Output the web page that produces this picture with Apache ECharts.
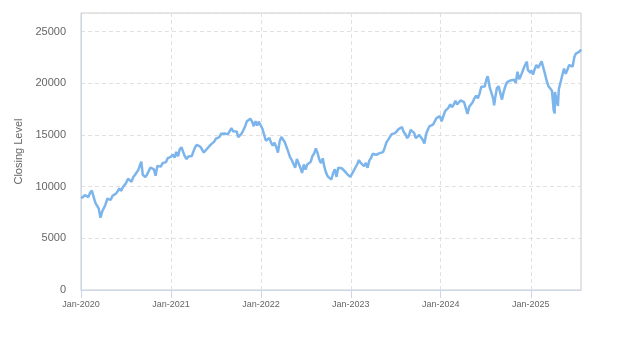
<!DOCTYPE html>
<html>
<head>
<meta charset="utf-8">
<script src="https://cdn.jsdelivr.net/npm/echarts@6/dist/echarts.min.js"></script>
<style>
  html, body { margin: 0; padding: 0; background: #fff; }
  #chart { width: 623px; height: 350px; }
</style>
</head>
<body>
<div id="chart"></div>
<script>
// Weekly closing levels of the index, Jan 2020 – Jul 2025
const dates = [
  '2020-01-02','2020-01-10','2020-01-17','2020-01-24','2020-01-31','2020-02-07','2020-02-14','2020-02-19','2020-02-28',
  '2020-03-06','2020-03-13','2020-03-20','2020-03-27','2020-04-03','2020-04-09','2020-04-17','2020-04-24','2020-05-01',
  '2020-05-08','2020-05-15','2020-05-22','2020-05-29','2020-06-05','2020-06-12','2020-06-19','2020-06-26','2020-07-02',
  '2020-07-10','2020-07-17','2020-07-24','2020-07-31','2020-08-07','2020-08-14','2020-08-21','2020-08-28','2020-09-02',
  '2020-09-08','2020-09-11','2020-09-18','2020-09-25','2020-10-02','2020-10-09','2020-10-16','2020-10-23','2020-10-30',
  '2020-11-06','2020-11-13','2020-11-20','2020-11-27','2020-12-04','2020-12-11','2020-12-18','2020-12-24','2020-12-31',
  '2021-01-08','2021-01-15','2021-01-22','2021-01-29','2021-02-05','2021-02-12','2021-02-19','2021-02-26','2021-03-05',
  '2021-03-12','2021-03-19','2021-03-26','2021-04-01','2021-04-09','2021-04-16','2021-04-23','2021-04-30','2021-05-07',
  '2021-05-14','2021-05-21','2021-05-28','2021-06-04','2021-06-11','2021-06-18','2021-06-25','2021-07-02','2021-07-09',
  '2021-07-16','2021-07-23','2021-07-30','2021-08-06','2021-08-13','2021-08-20','2021-08-27','2021-09-03','2021-09-10',
  '2021-09-17','2021-09-24','2021-10-01','2021-10-08','2021-10-15','2021-10-22','2021-10-29','2021-11-05','2021-11-12',
  '2021-11-19','2021-11-26','2021-12-03','2021-12-10','2021-12-17','2021-12-23','2021-12-31',
  '2022-01-07','2022-01-14','2022-01-21','2022-01-28','2022-02-04','2022-02-11','2022-02-18','2022-02-25','2022-03-04',
  '2022-03-11','2022-03-18','2022-03-25','2022-04-01','2022-04-08','2022-04-14','2022-04-22','2022-04-29','2022-05-06',
  '2022-05-13','2022-05-20','2022-05-27','2022-06-03','2022-06-10','2022-06-17','2022-06-24','2022-07-01','2022-07-08',
  '2022-07-15','2022-07-22','2022-07-29','2022-08-05','2022-08-12','2022-08-19','2022-08-26','2022-09-02','2022-09-09',
  '2022-09-16','2022-09-23','2022-09-30','2022-10-07','2022-10-14','2022-10-21','2022-10-28','2022-11-04','2022-11-11',
  '2022-11-18','2022-11-25','2022-12-02','2022-12-09','2022-12-16','2022-12-23','2022-12-30',
  '2023-01-06','2023-01-13','2023-01-20','2023-01-27','2023-02-03','2023-02-10','2023-02-17','2023-02-24','2023-03-03',
  '2023-03-10','2023-03-17','2023-03-24','2023-03-31','2023-04-06','2023-04-14','2023-04-21','2023-04-28','2023-05-05',
  '2023-05-12','2023-05-19','2023-05-26','2023-06-02','2023-06-09','2023-06-16','2023-06-23','2023-06-30','2023-07-07',
  '2023-07-14','2023-07-21','2023-07-28','2023-08-04','2023-08-11','2023-08-18','2023-08-25','2023-09-01','2023-09-08',
  '2023-09-15','2023-09-22','2023-09-29','2023-10-06','2023-10-13','2023-10-20','2023-10-27','2023-11-03','2023-11-10',
  '2023-11-17','2023-11-24','2023-12-01','2023-12-08','2023-12-15','2023-12-22','2023-12-29',
  '2024-01-05','2024-01-12','2024-01-19','2024-01-26','2024-02-02','2024-02-09','2024-02-16','2024-02-23','2024-03-01',
  '2024-03-08','2024-03-15','2024-03-22','2024-03-28','2024-04-05','2024-04-12','2024-04-19','2024-04-26','2024-05-03',
  '2024-05-10','2024-05-17','2024-05-24','2024-05-31','2024-06-07','2024-06-14','2024-06-21','2024-06-28','2024-07-05',
  '2024-07-10','2024-07-19','2024-07-26','2024-08-02','2024-08-05','2024-08-09','2024-08-16','2024-08-23','2024-08-30',
  '2024-09-06','2024-09-13','2024-09-20','2024-09-27','2024-10-04','2024-10-11','2024-10-18','2024-10-25','2024-11-01',
  '2024-11-08','2024-11-15','2024-11-22','2024-11-29','2024-12-06','2024-12-16','2024-12-20','2024-12-27','2024-12-31',
  '2025-01-03','2025-01-10','2025-01-17','2025-01-24','2025-01-31','2025-02-07','2025-02-14','2025-02-19','2025-02-28',
  '2025-03-07','2025-03-14','2025-03-21','2025-03-28','2025-04-04','2025-04-08','2025-04-09','2025-04-17','2025-04-21',
  '2025-04-25','2025-05-02','2025-05-09','2025-05-16','2025-05-23','2025-05-30','2025-06-06','2025-06-13','2025-06-20',
  '2025-06-27','2025-07-03','2025-07-11','2025-07-18','2025-07-24'
];

const closes = [
  8873, 8973, 9174, 9093, 8992, 9402, 9623, 9718, 8461,
  8531, 7875, 6994, 7588, 7528, 8230, 8833, 8783, 8718,
  9121, 9152, 9325, 9555, 9824, 9588, 9946, 9850, 10342,
  10768, 10655, 10461, 10905, 11131, 11216, 11625, 12110, 12420,
  11140, 11088, 10936, 11161, 11326, 11854, 11852, 11667, 11052,
  12012, 11936, 11937, 12259, 12443, 12370, 12755, 12725, 12888,
  13105, 12804, 13367, 12925, 13603, 13807, 13615, 12909, 12669,
  12914, 12895, 12957, 13367, 13845, 14041, 13936, 13860, 13720,
  13300, 13306, 13687, 13773, 14069, 14143, 14361, 14640, 14780,
  14793, 15118, 14960, 15134, 15173, 15069, 15375, 15653, 15358,
  15313, 15337, 14789, 14791, 15146, 15335, 15850, 16335, 16357,
  16573, 16280, 15849, 16331, 15899, 16293, 16320,
  15596, 15612, 14439, 14441, 14715, 14254, 13977, 14258, 13838,
  13302, 14386, 14807, 14861, 14292, 13894, 13357, 12855, 12573,
  12387, 11835, 12682, 12656, 11830, 11323, 12141, 11659, 12133,
  12045, 12397, 12947, 13209, 13696, 13242, 12618, 12272, 12739,
  11861, 11311, 10971, 11039, 10693, 11303, 11669, 10948, 11826,
  11677, 11780, 11951, 11452, 11239, 11049, 10940,
  11040, 11541, 11619, 12167, 12574, 12305, 12358, 11978, 12302,
  11830, 12520, 12767, 13181, 13063, 13079, 13007, 13246, 13240,
  13340, 13805, 14298, 14547, 14640, 15083, 14891, 15180, 15035,
  15565, 15444, 15750, 15274, 15059, 14694, 14941, 15492, 15302,
  15202, 14701, 14715, 15002, 14995, 14542, 14181, 15099, 15530,
  15853, 15982, 15997, 16085, 16623, 16777, 16826,
  16306, 16832, 17314, 17421, 17643, 17962, 17685, 17937, 18302,
  17963, 17808, 18339, 18255, 18177, 18004, 17038, 17718, 17891,
  18161, 18547, 18809, 18537, 19000, 19659, 19700, 19683, 20392,
  20676, 19523, 19024, 18440, 17867, 18513, 19509, 19721, 19575,
  18421, 19198, 19736, 20116, 20097, 20272, 20394, 20352, 20033,
  21117, 20394, 20741, 20930, 21622, 22096, 21289, 21354, 21012,
  21244, 20848, 21385, 21774, 21478, 21491, 22115, 22175, 20885,
  20201, 19704, 19754, 19282, 17398, 17090, 19145, 18258, 17808,
  19432, 20103, 19927, 21427, 20916, 21340, 21761, 21631, 21626,
  22534, 22867, 22780, 23065, 23273
];

const yTicks = { min: 0, max: 26800, interval: 5000 };
const axisStart = '2020-01-01';

const chart = echarts.init(document.getElementById('chart'), null, { renderer: 'canvas' });

const labelFont = 'Liberation Sans, Arial, sans-serif';

chart.setOption({
  animation: false,
  backgroundColor: '#ffffff',
  grid: {
    left: 81, right: 42, top: 13, bottom: 60,
    show: true, borderColor: '#cccccc', borderWidth: 1,
    containLabel: false
  },
  xAxis: {
    type: 'time',
    min: axisStart,
    max: dates[dates.length - 1],
    minInterval: 365 * 24 * 3600 * 1000,
    axisLine: { lineStyle: { color: '#ccd6eb' } },
    axisTick: { show: true, length: 8, lineStyle: { color: '#ccd6eb' } },
    axisLabel: {
      color: '#666666', fontSize: 9, fontFamily: labelFont,
      margin: 10, showMaxLabel: false, hideOverlap: false,
      formatter: function (v) {
        return 'Jan-' + new Date(v).getFullYear();
      }
    },
    splitLine: { show: true, lineStyle: { color: '#e0e0e0', type: [4, 3] } }
  },
  yAxis: {
    type: 'value',
    min: yTicks.min, max: yTicks.max, interval: yTicks.interval,
    name: 'Closing Level',
    nameLocation: 'middle',
    nameGap: 47,
    nameTextStyle: { color: '#666666', fontSize: 11, fontFamily: labelFont },
    axisLine: { show: true, lineStyle: { color: '#ccd6eb' } },
    axisTick: { show: false },
    axisLabel: {
      color: '#666666', fontSize: 11, fontFamily: labelFont,
      margin: 15, showMaxLabel: false,
      formatter: function (v) { return String(v); }
    },
    splitLine: { show: true, lineStyle: { color: '#e0e0e0', type: [4, 3] } }
  },
  series: [{
    type: 'line',
    data: dates.map((d, i) => [d, closes[i]]),
    showSymbol: false,
    symbol: 'none',
    lineStyle: { color: '#7cb5ec', width: 2.5 },
    itemStyle: { color: '#7cb5ec' }
  }]
});
</script>
</body>
</html>
